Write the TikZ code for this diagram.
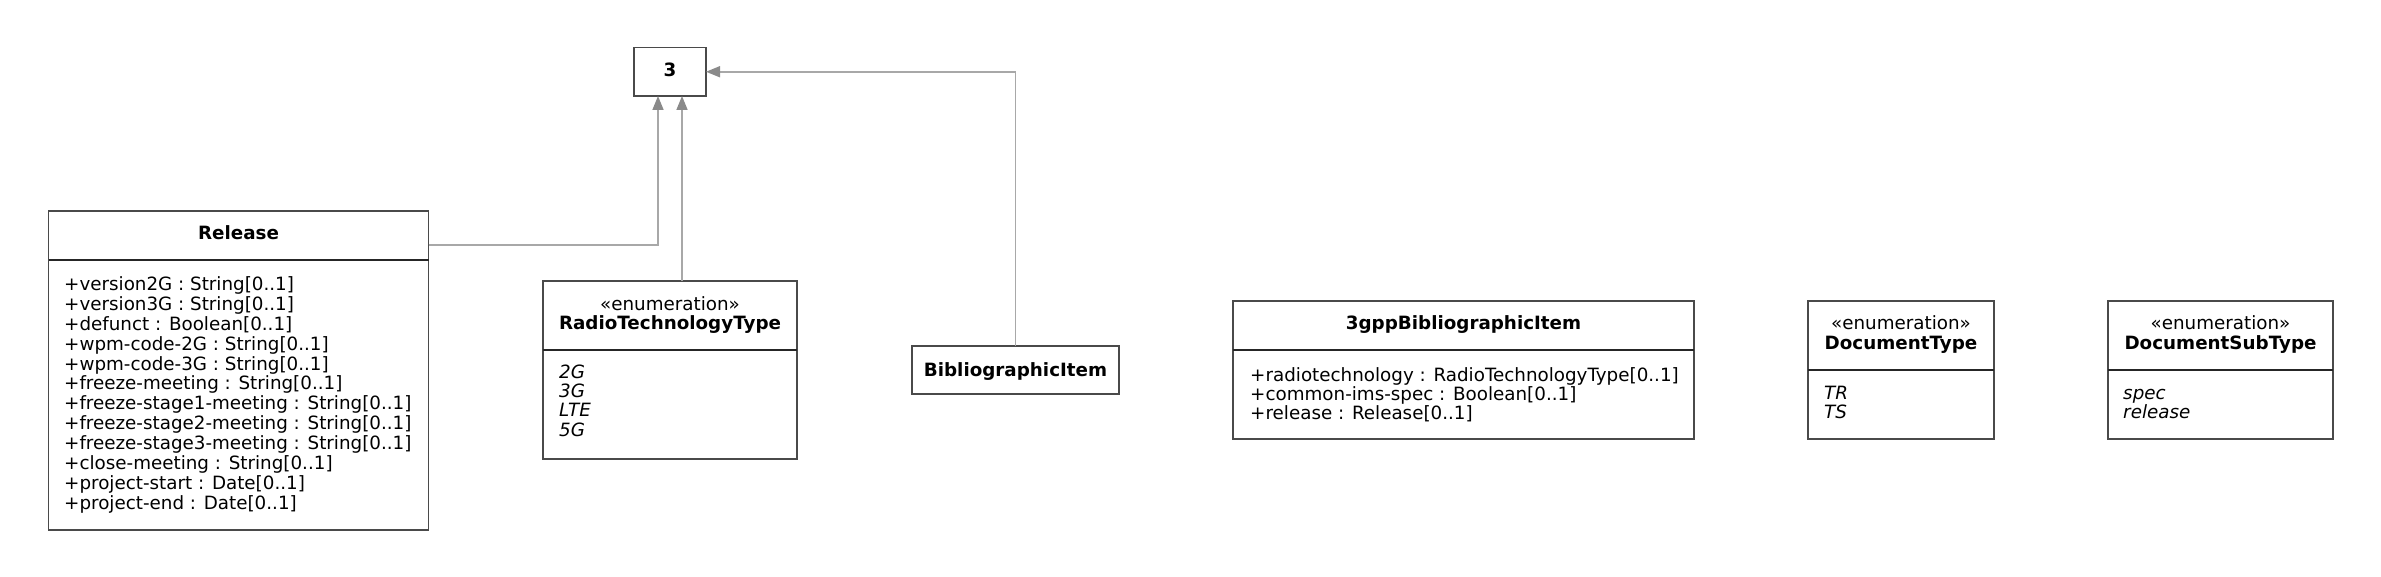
\documentclass[tikz,border=0pt]{standalone}
\usepackage{fontspec}
\setmainfont{DejaVu Sans}
\usetikzlibrary{arrows.meta}
\definecolor{boxc}{HTML}{4A4A4A}
\definecolor{connc}{HTML}{A8A8A8}
\definecolor{arrowc}{HTML}{8A8A8A}
\begin{document}
\begin{tikzpicture}[x=1pt,y=-1pt,
  umlbox/.style={draw=boxc, line width=1.6pt, fill=white, inner sep=0pt, outer sep=0pt, anchor=north west},
  divline/.style={draw=black!85, line width=1.8pt},
  conn/.style={draw=connc, line width=1.6pt, -{Triangle[length=14pt,width=11pt,color=arrowc,fill=arrowc]}},
  ttl/.style={inner sep=0pt, anchor=base, font=\fontsize{18.3}{20}\selectfont\bfseries},
  stereo/.style={inner sep=0pt, anchor=base, font=\fontsize{18.3}{20}\selectfont},
  attr/.style={inner sep=0pt, anchor=base west, font=\fontsize{18.3}{20}\selectfont},
  lit/.style={inner sep=0pt, anchor=base west, font=\fontsize{18.3}{20}\selectfont\itshape}
]
\useasboundingbox[fill=white] (0,0) rectangle (2381,577);

% boxes
\node[umlbox, minimum width=72pt, minimum height=48.5pt] (box3) at (634,47.5) {};
\node[ttl] (box3t) at (670,76.5) {3};

\node[umlbox, minimum width=380pt, minimum height=319pt] (release) at (48.5,211) {};
\draw[divline] (release.west |- 0,260) -- (release.east |- 0,260);
\node[ttl] (releaset) at (238.5,239.5) {Release};
\foreach \t [count=\i] in {{+version2G : String[0..1]},{+version3G : String[0..1]},{+defunct : Boolean[0..1]},{+wpm-code-2G : String[0..1]},{+wpm-code-3G : String[0..1]},{+freeze-meeting : String[0..1]},{+freeze-stage1-meeting : String[0..1]},{+freeze-stage2-meeting : String[0..1]},{+freeze-stage3-meeting : String[0..1]},{+close-meeting : String[0..1]},{+project-start : Date[0..1]},{+project-end : Date[0..1]}}
  \node[attr] (rel\i) at (64,{290.5+19.88*(\i-1)}) {\t};

\node[umlbox, minimum width=254pt, minimum height=178pt] (radio) at (543,281) {};
\draw[divline] (radio.west |- 0,350) -- (radio.east |- 0,350);
\node[stereo] (radios) at (670,310.5) {«enumeration»};
\node[ttl] (radiot) at (670,329.5) {RadioTechnologyType};
\foreach \t [count=\i] in {2G,3G,LTE,5G}
  \node[lit] (rad\i) at (559,{378+19.45*(\i-1)}) {\t};

\node[umlbox, minimum width=207pt, minimum height=48pt] (bib) at (912,346) {};
\node[ttl] (bibt) at (1015.5,376) {BibliographicItem};

\node[umlbox, minimum width=461pt, minimum height=138pt] (tgpp) at (1233,301) {};
\draw[divline] (tgpp.west |- 0,350) -- (tgpp.east |- 0,350);
\node[ttl] (tgppt) at (1463.5,329.5) {3gppBibliographicItem};
\foreach \t [count=\i] in {{+radiotechnology : RadioTechnologyType[0..1]},{+common-ims-spec : Boolean[0..1]},{+release : Release[0..1]}}
  \node[attr] (tg\i) at (1250,{381.5+19.2*(\i-1)}) {\t};

\node[umlbox, minimum width=186pt, minimum height=138pt] (doct) at (1808,301) {};
\draw[divline] (doct.west |- 0,370) -- (doct.east |- 0,370);
\node[stereo] (docts) at (1901,329.8) {«enumeration»};
\node[ttl] (doctt) at (1901,349.8) {DocumentType};
\foreach \t [count=\i] in {TR,TS}
  \node[lit] (dt\i) at (1824,{399.2+19.3*(\i-1)}) {\t};

\node[umlbox, minimum width=225pt, minimum height=138pt] (docst) at (2108,301) {};
\draw[divline] (docst.west |- 0,370) -- (docst.east |- 0,370);
\node[stereo] (docsts) at (2220.5,329.8) {«enumeration»};
\node[ttl] (docstt) at (2220.5,349.8) {DocumentSubType};
\foreach \t [count=\i] in {spec,release}
  \node[lit] (ds\i) at (2123,{399.2+19.3*(\i-1)}) {\t};

% connectors
\draw[conn] ([yshift=-34pt]release.north east) -| ([xshift=-12pt]box3.south);
\draw[conn] ([xshift=12pt]radio.north) -- ([xshift=12pt]box3.south);
\draw[conn] (bib.north) |- (box3.east);
\end{tikzpicture}
\end{document}
